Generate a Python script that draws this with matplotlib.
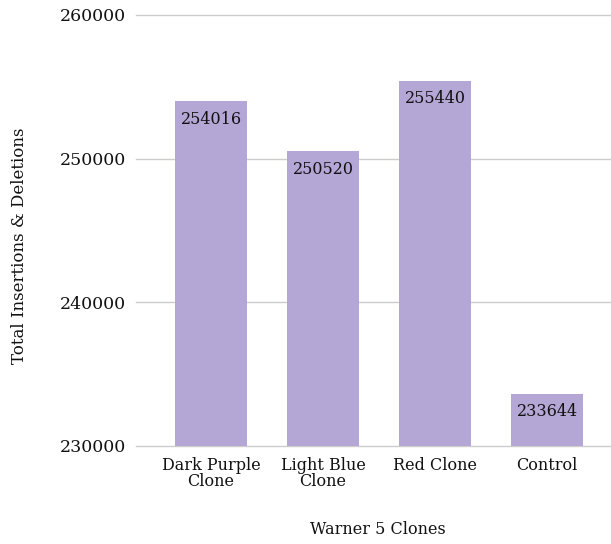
import matplotlib
matplotlib.use("Agg")
import matplotlib.pyplot as plt

categories = ["Dark Purple\nClone", "Light Blue\nClone", "Red Clone", "Control"]
values = [254016, 250520, 255440, 233644]
yticks = [230000, 240000, 250000, 260000]

bar_color = "#b4a7d6"
font = "DejaVu Serif"
ink = "#111111"

W, H = 611, 544
fig = plt.figure(figsize=(W / 100, H / 100), dpi=100)
ax = fig.add_axes([136 / W, 1 - 446 / H, (W - 136) / W, (446 - 15) / H])

ymin, ymax = 230000, 260000
ax.set_ylim(ymin, ymax)
ax.set_xlim(-0.67, 3.57)

bar_w = 0.64
for i, v in enumerate(values):
    ax.bar(i, v - ymin, bottom=ymin, width=bar_w, color=bar_color, zorder=2)
    ax.annotate(f"{v}", xy=(i, v), xytext=(0, -7), textcoords="offset points",
                ha="center", va="top", fontsize=11.5, family=font, color=ink,
                zorder=3)

ax.set_yticks(yticks)
ax.set_yticklabels([str(t) for t in yticks], family=font, fontsize=12.5, color=ink)
ax.set_xticks(range(len(categories)))
ax.set_xticklabels(categories, family=font, fontsize=11.5, color=ink,
                   linespacing=0.95)
ax.tick_params(axis="both", length=0)
ax.tick_params(axis="y", pad=7)
ax.tick_params(axis="x", pad=8)

ax.grid(axis="y", color="#cccccc", linewidth=1, zorder=0)
for gl in ax.yaxis.get_gridlines():
    gl.set_clip_on(False)
for s in ax.spines.values():
    s.set_visible(False)

fig.text(20 / W, 1 - 246 / H, "Total Insertions & Deletions", rotation=90,
         ha="center", va="center", family=font, fontsize=12, color=ink)
fig.text(378 / W, 1 - 530 / H, "Warner 5 Clones", ha="center", va="center",
         family=font, fontsize=11.5, color=ink)

fig.savefig("out.png", dpi=100)
